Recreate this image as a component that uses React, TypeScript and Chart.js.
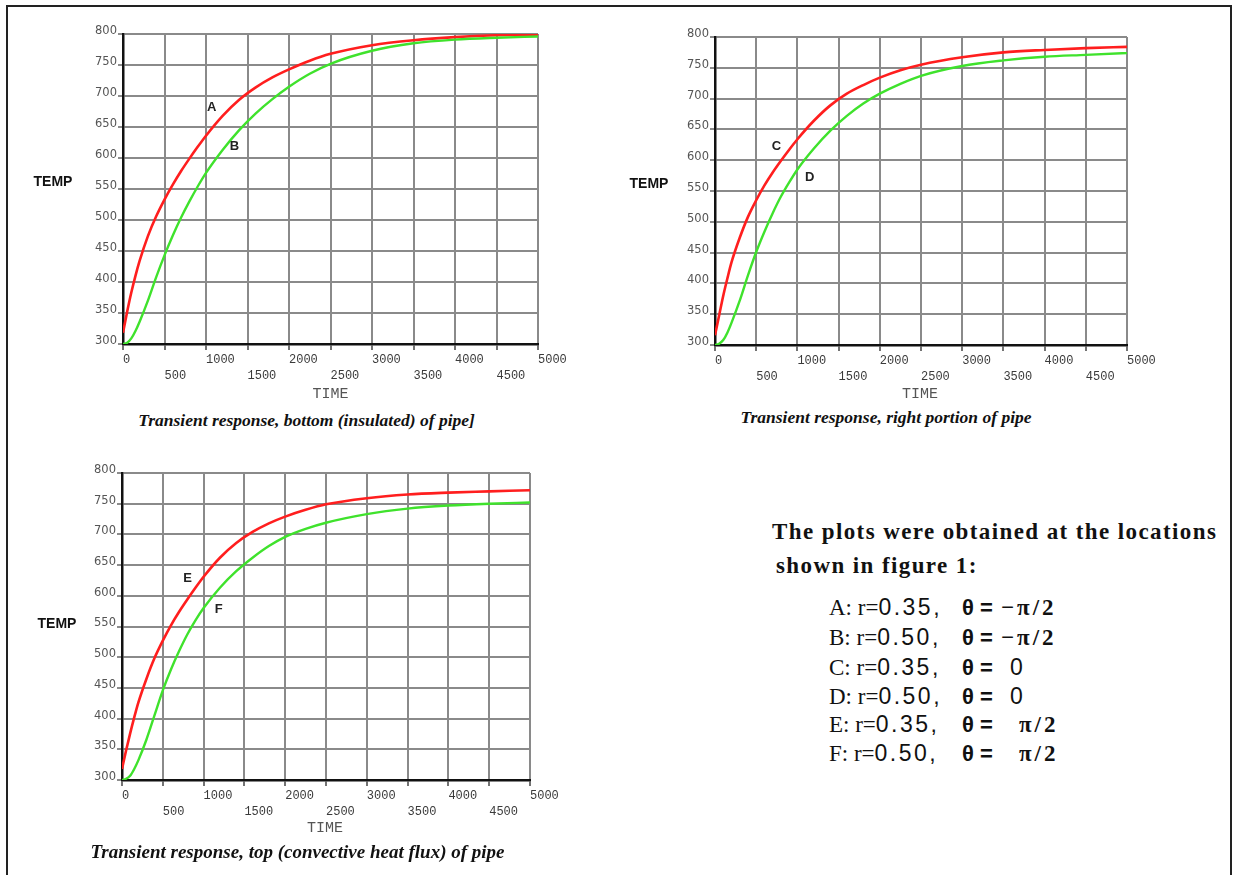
import React, { useEffect, useRef } from 'react';
import { Chart, registerables } from 'chart.js';

Chart.register(...registerables);

// ---------- data ----------
const TIMES = [0, 50, 100, 150, 200, 300, 400, 500, 600, 700, 800, 900, 1000, 1200, 1400, 1600, 1800, 2000, 2250, 2500, 3000, 3500, 4000, 4500, 5000];

// bottom (insulated) of pipe
const TEMP_A = [318, 352, 383, 410, 434, 474, 506, 533, 557, 579, 599, 618, 636, 668, 694, 714, 730, 743, 757, 768, 782, 790, 795, 798, 799];
const TEMP_B = [300, 302, 309, 321, 336, 370, 408, 443, 475, 504, 530, 554, 576, 613, 645, 672, 695, 715, 736, 752, 773, 785, 791, 794, 796];
// right portion of pipe
const TEMP_C = [316, 348, 380, 408, 434, 474, 508, 535, 559, 580, 599, 617, 634, 664, 689, 708, 722, 734, 746, 755, 767, 775, 779, 782, 784];
const TEMP_D = [300, 302, 308, 320, 336, 372, 413, 451, 484, 514, 541, 564, 585, 619, 648, 672, 692, 708, 724, 737, 753, 762, 768, 771, 774];
// top (convective heat flux) of pipe
const TEMP_E = [318, 348, 376, 402, 426, 465, 499, 527, 552, 574, 594, 613, 631, 662, 686, 704, 718, 729, 740, 749, 759, 765, 768, 770, 772];
const TEMP_F = [300, 302, 307, 318, 332, 366, 406, 446, 480, 510, 537, 560, 580, 613, 640, 662, 681, 696, 709, 719, 733, 742, 747, 750, 752];

const X_TICK_LABELS = ['0', '500', '1000', '1500', '2000', '2500', '3000', '3500', '4000', '4500', '5000'];
const Y_TICK_LABELS = ['300', '350', '400', '450', '500', '550', '600', '650', '700', '750', '800'];

// curve name labels, in data coordinates (time, temp)
const LABELS_1 = [{ text: 'A', t: 1070, v: 681 }, { text: 'B', t: 1342, v: 619 }];
const LABELS_2 = [{ text: 'C', t: 747, v: 622 }, { text: 'D', t: 1148, v: 572 }];
const LABELS_3 = [{ text: 'E', t: 804, v: 629 }, { text: 'F', t: 1184, v: 578 }];

const CAPTIONS = [
  'Transient response, bottom (insulated) of pipe]',
  'Transient response, right portion of pipe',
  'Transient response, top (convective heat flux) of pipe',
];

const ROW_NAMES = ['A: r=', 'B: r=', 'C: r=', 'D: r=', 'E: r=', 'F: r='];
const ROW_RADII = ['0.35,', '0.50,', '0.35,', '0.50,', '0.35,', '0.50,'];
const ROW_ANGLES = ['\u2212\u03c0/2', '\u2212\u03c0/2', '0', '0', '\u03c0/2', '\u03c0/2'];

// ---------- style ----------
const RED = '#ff1e1e';
const GREEN = '#3fe22c';
const GRID = '#8a8a8a';

type Spec = {
  left: number; top: number; width: number; height: number;
  L: number; T: number; R: number; B: number;
  red: number[]; green: number[]; redName: string; greenName: string;
  labels: { text: string; t: number; v: number }[];
};

const SPECS: Spec[] = [
  { left: 0, top: 0, width: 610, height: 400, L: 123, T: 34, R: 538, B: 344, red: TEMP_A, green: TEMP_B, redName: 'A', greenName: 'B', labels: LABELS_1 },
  { left: 610, top: 0, width: 620, height: 400, L: 715, T: 37, R: 1127, B: 345, red: TEMP_C, green: TEMP_D, redName: 'C', greenName: 'D', labels: LABELS_2 },
  { left: 0, top: 440, width: 610, height: 395, L: 122, T: 473, R: 530, B: 780, red: TEMP_E, green: TEMP_F, redName: 'E', greenName: 'F', labels: LABELS_3 },
];

function PlotChart({ spec }: { spec: Spec }) {
  const ref = useRef<HTMLCanvasElement | null>(null);
  useEffect(() => {
    const canvas = ref.current;
    if (!canvas) return;
    const labelPlugin = {
      id: 'curveLabels',
      afterDatasetsDraw(chart: any) {
        const { ctx, scales } = chart;
        ctx.save();
        ctx.font = 'bold 13px "Liberation Sans", Arial, sans-serif';
        ctx.fillStyle = '#222';
        ctx.textAlign = 'center';
        ctx.textBaseline = 'middle';
        for (const a of spec.labels) {
          ctx.fillText(a.text, scales.x.getPixelForValue(a.t), scales.y.getPixelForValue(a.v));
        }
        ctx.restore();
      },
    };
    const chart = new Chart(canvas, {
      type: 'line',
      data: {
        datasets: [
          {
            label: spec.greenName,
            data: TIMES.map((t, i) => ({ x: t, y: spec.green[i] })),
            borderColor: GREEN,
            borderWidth: 2.4,
            pointRadius: 0,
            cubicInterpolationMode: 'monotone',
          },
          {
            label: spec.redName,
            data: TIMES.map((t, i) => ({ x: t, y: spec.red[i] })),
            borderColor: RED,
            borderWidth: 2.6,
            pointRadius: 0,
            cubicInterpolationMode: 'monotone',
          },
        ],
      },
      options: {
        responsive: false,
        animation: false,
        devicePixelRatio: 1,
        events: [],
        layout: {
          padding: {
            left: 0,
            top: spec.T - spec.top,
            right: spec.left + spec.width - spec.R,
            bottom: 0,
          },
        },
        plugins: { legend: { display: false }, tooltip: { enabled: false } },
        scales: {
          x: {
            type: 'linear',
            min: 0,
            max: 5000,
            afterFit: (s: any) => { s.height = spec.top + spec.height - spec.B; },
            grid: { color: GRID, lineWidth: 2, tickLength: 6, tickColor: '#444', tickWidth: 1.5 },
            border: { color: '#111', width: 2.5 },
            ticks: {
              stepSize: 500,
              autoSkip: false,
              maxRotation: 0,
              align: 'start',
              padding: 2,
              color: '#3a3a3a',
              font: { family: '"Liberation Mono", "DejaVu Sans Mono", monospace', size: 12, lineHeight: 16 / 12 },
              callback: (_v: any, i: number) => (i % 2 === 0 ? X_TICK_LABELS[i] : ['', X_TICK_LABELS[i]]),
            },
          },
          y: {
            type: 'linear',
            min: 300,
            max: 800,
            afterFit: (s: any) => { s.width = spec.L - spec.left; },
            grid: { color: GRID, lineWidth: 2, tickLength: 5, tickColor: '#666', tickWidth: 1.5 },
            border: { color: '#111', width: 2.5 },
            ticks: {
              stepSize: 50,
              autoSkip: false,
              padding: 1,
              labelOffset: -3,
              color: '#555',
              font: { family: '"DejaVu Sans", Verdana, sans-serif', size: 11.5 },
              callback: (_v: any, i: number) => Y_TICK_LABELS[i],
            },
          },
        },
      } as any,
      plugins: [labelPlugin],
    });
    return () => chart.destroy();
  }, [spec]);
  return (
    <canvas
      ref={ref}
      width={spec.width}
      height={spec.height}
      style={{ position: 'absolute', left: spec.left, top: spec.top, width: spec.width, height: spec.height }}
    />
  );
}

function Centered({ x, y, text, style }: { x: number; y: number; text: string; style: React.CSSProperties }) {
  return (
    <div
      style={{
        position: 'absolute',
        left: x,
        top: y,
        transform: 'translate(-50%, -50%)',
        whiteSpace: 'nowrap',
        lineHeight: 1,
        ...style,
      }}
    >
      {text}
    </div>
  );
}

const TEMP_STYLE: React.CSSProperties = { fontFamily: '"Liberation Sans", Arial, sans-serif', fontWeight: 'bold', fontSize: 14, color: '#111' };
const TIME_STYLE: React.CSSProperties = { fontFamily: '"Liberation Mono", monospace', fontSize: 15, color: '#555' };
const CAPTION_STYLE: React.CSSProperties = { fontFamily: '"Liberation Serif", "Times New Roman", serif', fontWeight: 'bold', fontStyle: 'italic', color: '#111' };

export default function App() {
  const serif = '"Liberation Serif", "Times New Roman", serif';
  const sans = '"Liberation Sans", Arial, sans-serif';
  const rowBaselines = [615, 645, 675, 704, 732, 761];
  const angleX = [1001, 1001, 1010, 1010, 1019, 1019];
  return (
    <div
      style={{
        position: 'fixed',
        left: 0,
        top: 0,
        width: 1236,
        height: 875,
        overflow: 'hidden',
        background: '#fff',
      }}
    >
      <div
        style={{
          position: 'absolute',
          left: 6,
          top: 5,
          width: 1226,
          height: 900,
          boxSizing: 'border-box',
          border: '2px solid #222',
        }}
      />
      {SPECS.map((s, i) => (
        <PlotChart key={i} spec={s} />
      ))}

      <Centered x={53} y={181} text="TEMP" style={TEMP_STYLE} />
      <Centered x={649} y={182.5} text="TEMP" style={TEMP_STYLE} />
      <Centered x={57} y={622.5} text="TEMP" style={TEMP_STYLE} />

      <Centered x={330.5} y={393.5} text="TIME" style={TIME_STYLE} />
      <Centered x={920} y={394} text="TIME" style={TIME_STYLE} />
      <Centered x={325} y={827.5} text="TIME" style={TIME_STYLE} />

      <Centered x={306.5} y={420.5} text={CAPTIONS[0]} style={{ ...CAPTION_STYLE, fontSize: 17.5 }} />
      <Centered x={886} y={418} text={CAPTIONS[1]} style={{ ...CAPTION_STYLE, fontSize: 17.5 }} />
      <Centered x={297.5} y={850.5} text={CAPTIONS[2]} style={{ ...CAPTION_STYLE, fontSize: 19 }} />

      <div
        style={{
          position: 'absolute', left: 772, top: 520, whiteSpace: 'nowrap',
          fontFamily: serif, fontWeight: 'bold', fontSize: 23, lineHeight: '23px', letterSpacing: 1.4, color: '#111',
        }}
      >
        The plots were obtained at the locations
      </div>
      <div
        style={{
          position: 'absolute', left: 776, top: 553.5, whiteSpace: 'nowrap',
          fontFamily: serif, fontWeight: 'bold', fontSize: 23, lineHeight: '23px', letterSpacing: 1.4, color: '#111',
        }}
      >
        shown in figure 1:
      </div>

      {ROW_NAMES.map((name, i) => (
        <React.Fragment key={i}>
          <div
            style={{
              position: 'absolute', left: 829, top: rowBaselines[i] - 19.3, whiteSpace: 'nowrap',
              fontFamily: serif, fontSize: 23, lineHeight: '23px', color: '#111',
            }}
          >
            {name}
            <span style={{ fontFamily: sans, letterSpacing: 2.5 }}>{ROW_RADII[i]}</span>
          </div>
          <div
            style={{
              position: 'absolute', left: 962, top: rowBaselines[i] - 19.5, whiteSpace: 'nowrap',
              fontFamily: sans, fontWeight: 'bold', fontSize: 22, lineHeight: '23px', color: '#111',
            }}
          >
            {'\u03b8 ='}
          </div>
          <div
            style={{
              position: 'absolute', left: angleX[i], top: rowBaselines[i] - 19.3, whiteSpace: 'nowrap',
              fontFamily: ROW_ANGLES[i] === '0' ? sans : serif,
              fontWeight: ROW_ANGLES[i] === '0' ? 'normal' : 'bold',
              fontSize: 23, lineHeight: '23px', letterSpacing: ROW_ANGLES[i] === '0' ? 0 : 3, color: '#111',
            }}
          >
            {ROW_ANGLES[i]}
          </div>
        </React.Fragment>
      ))}
    </div>
  );
}
